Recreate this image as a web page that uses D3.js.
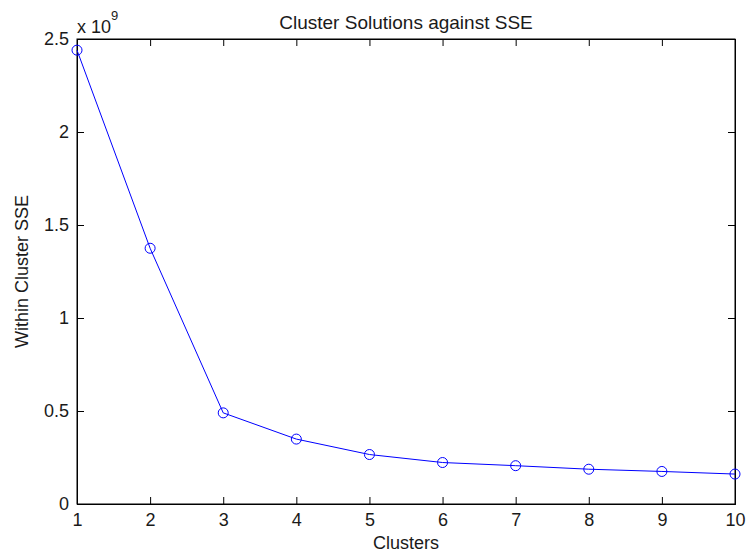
<!DOCTYPE html>
<html><head><meta charset="utf-8">
<script src="https://cdn.jsdelivr.net/npm/d3@7"></script>
<style>body{margin:0;background:#fff}text{font-family:"Liberation Sans",Arial,sans-serif;fill:#1a1a1a}</style>
</head><body><svg id="c" width="746" height="554"></svg>
<script>
const clusters = [1,2,3,4,5,6,7,8,9,10];
const sse = [2.44e9,1.375e9,0.49e9,0.349e9,0.266e9,0.223e9,0.206e9,0.187e9,0.175e9,0.161e9];
const xTicks = [1,2,3,4,5,6,7,8,9,10];
const yTicks = [0,0.5e9,1e9,1.5e9,2e9,2.5e9];
const yTickLabels = ["0","0.5","1","1.5","2","2.5"];

const svg = d3.select("#c");
const L=77,R=735,T=39,B=504;
const x = d3.scaleLinear().domain([1,10]).range([L,R]);
const y = d3.scaleLinear().domain([0,2.5e9]).range([B,T]);
const fs = 18;

svg.append("rect").attr("x",L).attr("y",T).attr("width",R-L).attr("height",B-T)
  .attr("fill","#fff").attr("stroke","#000").attr("stroke-width",1);

const tl = 7;
const gb = svg.append("g").attr("transform",`translate(0,${B})`)
  .call(d3.axisBottom(x).tickValues(xTicks).tickSize(-tl).tickPadding(9).tickFormat(d3.format("d")));
const gt = svg.append("g").attr("transform",`translate(0,${T})`)
  .call(d3.axisTop(x).tickValues(xTicks).tickSize(-tl).tickFormat(""));
const gl = svg.append("g").attr("transform",`translate(${L},0)`)
  .call(d3.axisLeft(y).tickValues(yTicks).tickSize(-tl).tickPadding(8).tickFormat((d,i)=>yTickLabels[i]));
const gr = svg.append("g").attr("transform",`translate(${R},0)`)
  .call(d3.axisRight(y).tickValues(yTicks).tickSize(-tl).tickFormat(""));
[gb,gt,gl,gr].forEach(g=>{
  g.select(".domain").attr("stroke","#000");
  g.selectAll(".tick line").attr("stroke","#000");
  g.selectAll("text").attr("font-size",fs).attr("font-family","Liberation Sans, Arial, sans-serif").attr("fill","#1a1a1a");
});
gb.selectAll("text").attr("dy","0.71em");

const line = d3.line().x((d,i)=>x(clusters[i])).y(d=>y(d));
svg.append("path").datum(sse).attr("d",line).attr("fill","none").attr("stroke","#0000ff").attr("stroke-width",1);
svg.selectAll("circle.pt").data(sse).enter().append("circle")
  .attr("cx",(d,i)=>x(clusters[i])).attr("cy",d=>y(d)).attr("r",5)
  .attr("fill","none").attr("stroke","#0000ff").attr("stroke-width",1);

svg.append("text").attr("x",(L+R)/2).attr("y",29).attr("text-anchor","middle").attr("font-size",19).text("Cluster Solutions against SSE");
svg.append("text").attr("x",(L+R)/2).attr("y",549).attr("text-anchor","middle").attr("font-size",fs).text("Clusters");
svg.append("text").attr("transform",`translate(28,${(T+B)/2}) rotate(-90)`).attr("text-anchor","middle").attr("font-size",fs).text("Within Cluster SSE");
const ex = svg.append("text").attr("x",77).attr("y",33).attr("font-size",fs);
ex.append("tspan").text("x 10");
ex.append("tspan").attr("dy",-13).attr("font-size",13).text("9");
</script></body></html>
